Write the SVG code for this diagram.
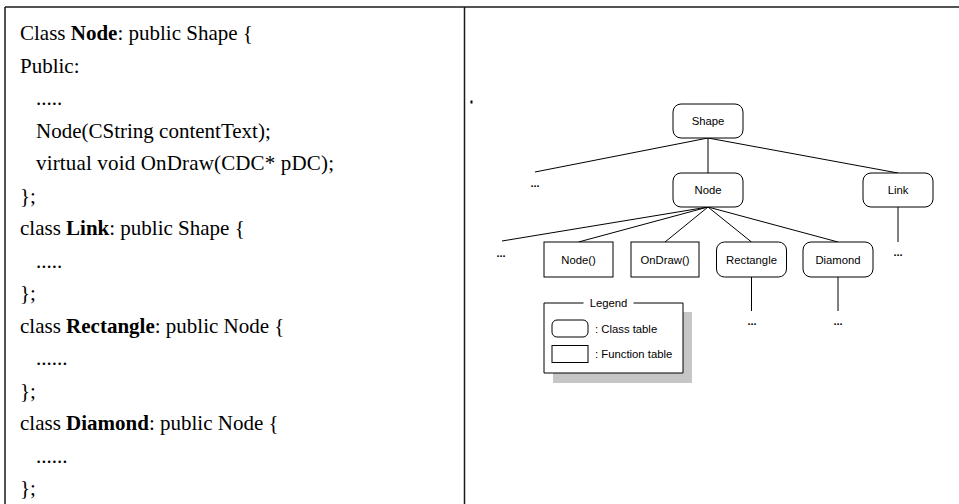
<svg xmlns="http://www.w3.org/2000/svg" width="959" height="504" viewBox="0 0 959 504">
  <style>
    .code { font-family: "Liberation Serif", "Times New Roman", serif; font-size: 21px; fill: #000; }
    .code .b { font-weight: bold; }
    .frame { stroke: #1a1a1a; stroke-width: 1.5; fill: none; }
    .box { fill: #fff; stroke: #000; stroke-width: 1; }
    .lbl { font-family: "Liberation Sans", Arial, sans-serif; font-size: 11.3px; fill: #000; text-anchor: middle; dominant-baseline: central; }
    .lgd { font-family: "Liberation Sans", Arial, sans-serif; font-size: 11.3px; fill: #000; dominant-baseline: central; }
    .dots { font-family: "Liberation Sans", Arial, sans-serif; font-size: 11px; font-weight: bold; fill: #000; text-anchor: middle; }
    .edge { stroke: #000; stroke-width: 1; fill: none; }
  </style>

  <!-- table frame -->
  <g id="frame">
    <line class="frame" x1="5" y1="7" x2="959" y2="7"/>
    <line class="frame" x1="5" y1="7" x2="5" y2="504"/>
    <line class="frame" x1="464.5" y1="7" x2="464.5" y2="504"/>
  </g>

  <!-- class declarations -->
  <g id="code" class="code">
    <text x="20" y="40">Class <tspan class="b">Node</tspan>: public Shape {</text>
    <text x="20" y="72.5">Public:</text>
    <text x="36" y="105">.....</text>
    <text x="36" y="137.5">Node(CString contentText);</text>
    <text x="36" y="170" textLength="298" lengthAdjust="spacing">virtual void OnDraw(CDC* pDC);</text>
    <text x="20" y="202.5">};</text>
    <text x="20" y="235">class <tspan class="b">Link</tspan>: public Shape {</text>
    <text x="36" y="267.5">.....</text>
    <text x="20" y="300">};</text>
    <text x="20" y="332.5">class <tspan class="b">Rectangle</tspan>: public Node {</text>
    <text x="36" y="365">......</text>
    <text x="20" y="397.5">};</text>
    <text x="20" y="430">class <tspan class="b">Diamond</tspan>: public Node {</text>
    <text x="36" y="462.5">......</text>
    <text x="20" y="495">};</text>
  </g>

  <!-- stray mark -->
  <rect x="470.5" y="100.5" width="2" height="3" fill="#000"/>

  <!-- connectors -->
  <g id="connectors">
    <line class="edge" x1="708" y1="138" x2="535" y2="172"/>
    <line class="edge" x1="708" y1="138" x2="708" y2="173"/>
    <line class="edge" x1="708" y1="138" x2="898" y2="173"/>
    <line class="edge" x1="708" y1="207" x2="502" y2="241"/>
    <line class="edge" x1="708" y1="207" x2="578.5" y2="242"/>
    <line class="edge" x1="708" y1="207" x2="665" y2="242"/>
    <line class="edge" x1="708" y1="207" x2="751.5" y2="242"/>
    <line class="edge" x1="708" y1="207" x2="838" y2="242"/>
    <line class="edge" x1="898" y1="207" x2="898" y2="242"/>
    <line class="edge" x1="751.5" y1="277" x2="751.5" y2="311"/>
    <line class="edge" x1="838" y1="277" x2="838" y2="311"/>
    <text class="dots" x="535" y="187">...</text>
    <text class="dots" x="501" y="257">...</text>
    <text class="dots" x="898" y="256">...</text>
    <text class="dots" x="752" y="325">...</text>
    <text class="dots" x="838" y="325">...</text>
  </g>

  <!-- class tables -->
  <g id="shape">
    <rect class="box" x="673" y="104" width="70" height="34" rx="8"/>
    <text class="lbl" x="708" y="121">Shape</text>
  </g>
  <g id="node">
    <rect class="box" x="673" y="173" width="70" height="34" rx="8"/>
    <text class="lbl" x="708" y="190">Node</text>
  </g>
  <g id="link">
    <rect class="box" x="863" y="173" width="70" height="34" rx="8"/>
    <text class="lbl" x="898" y="190">Link</text>
  </g>
  <g id="rectangle">
    <rect class="box" x="716.5" y="242" width="70" height="35" rx="8"/>
    <text class="lbl" x="751.5" y="259.5">Rectangle</text>
  </g>
  <g id="diamond">
    <rect class="box" x="803" y="242" width="70" height="35" rx="8"/>
    <text class="lbl" x="838" y="259.5">Diamond</text>
  </g>

  <!-- function tables -->
  <g id="node-ctor">
    <rect class="box" x="544" y="242" width="69" height="35"/>
    <text class="lbl" x="578.5" y="259.5">Node()</text>
  </g>
  <g id="ondraw">
    <rect class="box" x="631" y="242" width="68" height="35"/>
    <text class="lbl" x="665" y="259.5">OnDraw()</text>
  </g>

  <!-- legend -->
  <g id="legend">
    <rect x="553" y="312" width="139" height="71" fill="#c6c6c6"/>
    <rect x="544" y="303" width="139" height="70" fill="#fff"/>
    <path class="edge" d="M583.5 303 H544 V373 H683 V303 H633.5"/>
    <text class="lgd" x="608.5" y="303" text-anchor="middle">Legend</text>
    <rect class="box" x="552" y="320" width="36" height="17" rx="5"/>
    <text class="lgd" x="595" y="328.5">: Class table</text>
    <rect class="box" x="552" y="345.5" width="36" height="17"/>
    <text class="lgd" x="595" y="354">: Function table</text>
  </g>
</svg>
